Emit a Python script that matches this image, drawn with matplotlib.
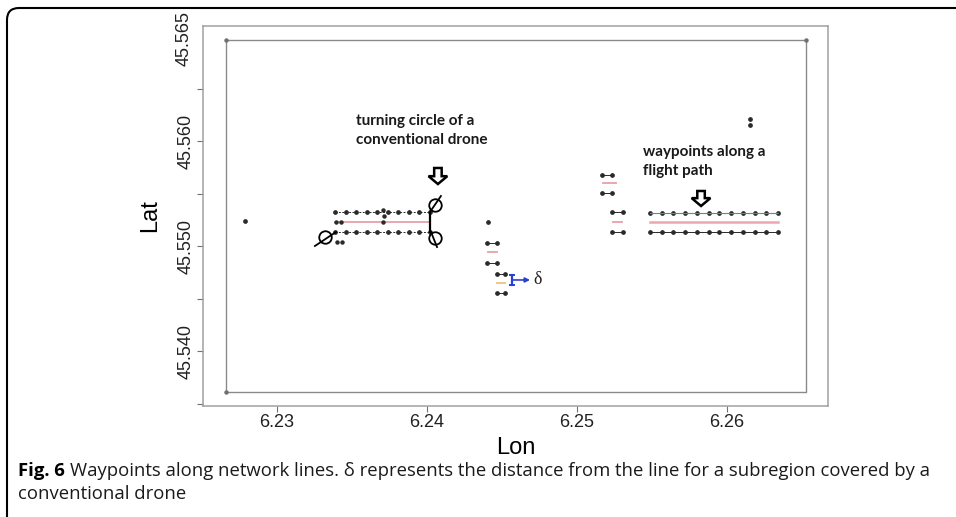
import matplotlib.pyplot as plt
from matplotlib.patches import FancyArrow, FancyBboxPatch

# survey frame (corner points)
frame_lon = [6.2266, 6.2266, 6.26527, 6.26527, 6.2266]
frame_lat = [45.53610, 45.56962, 45.56962, 45.53610, 45.53610]

# left cluster: two flight rows either side of the network line
left_lon = [6.2339, 6.2346, 6.2353, 6.2360, 6.2367, 6.2374, 6.2381, 6.2388, 6.2395, 6.2402]
left_lat_top = 45.55324
left_lat_mid = 45.55229
left_lat_bot = 45.55133
left_extra_lon = [6.23393, 6.23427, 6.23400, 6.23433, 6.23707, 6.23713, 6.23707]
left_extra_lat = [45.55229, 45.55229, 45.55038, 45.55038, 45.55343, 45.55286, 45.55229]

# turning circles and their tangent strokes
circle_lon = [6.24053, 6.24053, 6.23320]
circle_lat = [45.55390, 45.55076, 45.55086]
tangent_lon = [[6.24020, 6.24093], [6.24027, 6.24067], [6.23253, 6.23393]]
tangent_lat = [[45.55324, 45.55476], [45.55133, 45.54990], [45.55000, 45.55133]]

# short segments (middle and right-middle groups)
seg_pairs = [
    ((6.24400, 6.24467), 45.55029),
    ((6.24400, 6.24467), 45.54838),
    ((6.24467, 6.24520), 45.54733),
    ((6.24467, 6.24520), 45.54552),
    ((6.25167, 6.25233), 45.55676),
    ((6.25167, 6.25233), 45.55505),
    ((6.25233, 6.25307), 45.55324),
    ((6.25233, 6.25307), 45.55133),
]
seg_lines = [
    ((6.24407, 6.24467), 45.54943, '#e8a0a8'),
    ((6.24467, 6.24520), 45.54648, '#f0c080'),
    ((6.25173, 6.25260), 45.55600, '#e8a0a8'),
    ((6.25240, 6.25300), 45.55229, '#e8a0a8'),
]

# right cluster
right_lon = [6.2549, 6.2557, 6.2564, 6.2572, 6.2580, 6.2588,
             6.2595, 6.2603, 6.2611, 6.2619, 6.2626, 6.2634]
right_lat_top = 45.55314
right_lat_mid = 45.55229
right_lat_bot = 45.55133

# isolated points
single_lon = [6.22787, 6.26153, 6.26153, 6.24407]
single_lat = [45.55238, 45.56210, 45.56152, 45.55229]

# delta marker
delta_lon = 6.24567
delta_lat = (45.54629, 45.54724)
delta_arrow_end = 6.24687
delta_text_lon = 6.24740

x_ticks = [6.23, 6.24, 6.25, 6.26]
x_tick_labels = ['6.23', '6.24', '6.25', '6.26']
y_major = [45.540, 45.550, 45.560]
y_major_labels = ['45.540', '45.550', '45.560']
y_minor = [45.535, 45.545, 45.555, 45.565]

plt.rcParams['font.family'] = ['Liberation Sans', 'DejaVu Sans']

fig = plt.figure(figsize=(9.56, 5.17), dpi=100)
ax = fig.add_axes([0.2123, 0.2147, 0.6538, 0.7350])
ax.set_xlim(6.225067, 6.266733)
ax.set_ylim(45.534762, 45.570952)

for s in ax.spines.values():
    s.set_color('#a0a0a0')
    s.set_linewidth(1.1)

ax.set_xticks(x_ticks)
ax.set_xticklabels(x_tick_labels)
ax.set_yticks(y_major)
ax.set_yticklabels(y_major_labels, rotation=90, va='center')
ax.set_yticks(y_minor, minor=True)
ax.tick_params(axis='both', which='both', direction='out', length=4, width=0.8,
               color='#707070', labelsize=13, labelcolor='#222222', pad=2)
ax.annotate('45.565', xy=(0, 45.5698), xycoords=('axes fraction', 'data'),
            xytext=(-10, 0), textcoords='offset pixels', rotation=90,
            ha='right', va='center', fontsize=13, color='#222222')
ax.set_xlabel('Lon', fontsize=17, labelpad=4)
ax.set_ylabel('Lat', fontsize=17, labelpad=12)

ax.plot(frame_lon, frame_lat, color='#8a8a8a', lw=1.0)
ax.plot(frame_lon[:2], frame_lat[:2], 'o', color='#707070', ms=2.2)
ax.plot(frame_lon[2:3], frame_lat[2:3], 'o', color='#707070', ms=2.2)

dot = dict(marker='o', ms=2.4, color='#2a2a2a', lw=0.7)

# left cluster rows
ax.plot(left_lon, [left_lat_top] * len(left_lon), ls=(0, (2, 1.5)), **dot)
ax.plot(left_lon, [left_lat_bot] * len(left_lon), ls=(0, (2, 1.5)), **dot)
ax.plot(left_lon, [left_lat_mid] * len(left_lon), color='#e6a0a8', lw=1.3)
ax.plot(left_extra_lon, left_extra_lat, 'o', ms=2.2, color='#2a2a2a')
ax.plot([left_lon[-1], left_lon[-1]], [left_lat_top, left_lat_bot], color='black', lw=1.6)

ax.plot(circle_lon, circle_lat, 'o', ms=9, mfc='none', mec='black', mew=1.3)
for tx, ty in zip(tangent_lon, tangent_lat):
    ax.plot(tx, ty, color='black', lw=1.3)

for (xs, y) in seg_pairs:
    ax.plot(xs, [y, y], **dot)
for (xs, y, c) in seg_lines:
    ax.plot(xs, [y, y], color=c, lw=1.3)

# right cluster rows
ax.plot(right_lon, [right_lat_top] * len(right_lon), marker='o', ms=2.4,
        color='#2a2a2a', lw=0)
ax.plot(right_lon, [right_lat_top] * len(right_lon), color='#4a9488', lw=0.8)
ax.plot(right_lon, [right_lat_mid] * len(right_lon), color='#eea6ae', lw=1.8)
ax.plot(right_lon, [right_lat_bot] * len(right_lon), **dot)

ax.plot(single_lon, single_lat, 'o', ms=2.4, color='#2a2a2a')

# delta: distance bar with arrow
ax.plot([delta_lon, delta_lon], delta_lat, color='#2a3fd0', lw=1.6)
ax.plot([delta_lon - 0.00012, delta_lon + 0.00012], [delta_lat[0]] * 2, color='#2a3fd0', lw=1.4)
ax.plot([delta_lon - 0.00012, delta_lon + 0.00012], [delta_lat[1]] * 2, color='#2a3fd0', lw=1.4)
mid_lat = sum(delta_lat) / 2
ax.annotate('', xy=(delta_arrow_end, mid_lat), xytext=(delta_lon, mid_lat),
            arrowprops=dict(arrowstyle='-|>', color='#2a3fd0', lw=1.2,
                            mutation_scale=7, shrinkA=0, shrinkB=0))
ax.text(delta_text_lon, mid_lat, 'δ', fontsize=13, family=['Liberation Serif', 'DejaVu Serif'],
        ha='center', va='center', color='#222222')

# hollow pointer arrows under the labels
for x0, y_top, y_bot in [(6.24073, 45.55743, 45.55590), (6.25827, 45.55524, 45.55381)]:
    ax.add_patch(FancyArrow(x0, y_top, 0, y_bot - y_top, width=0.00050,
                            head_width=0.00125, head_length=0.00075,
                            length_includes_head=True, fc='white', ec='black', lw=1.8))

label_font = dict(fontsize=11, fontweight='bold', family=['Lato', 'DejaVu Sans'],
                  color='#1a1a1a', ha='left', va='top', linespacing=1.4)
ax.text(6.23527, 45.56255, 'turning circle of a\nconventional drone', **label_font)
ax.text(6.25440, 45.55960, 'waypoints along a\nflight path', **label_font)

# caption and page frame
cap_font = dict(fontsize=13.3, family=['Open Sans', 'DejaVu Sans'], va='center', ha='left')
fig.text(18 / 956, 1 - 471 / 517, 'Fig. 6', fontweight='bold', **cap_font)
fig.text(70 / 956, 1 - 471 / 517,
         'Waypoints along network lines. δ represents the distance from the line for a subregion covered by a',
         color='#1a1a1a', **cap_font)
fig.text(18 / 956, 1 - 494 / 517, 'conventional drone', color='#1a1a1a', **cap_font)

fig.add_artist(FancyBboxPatch((0.07, -1.0), 10.0, 6.09,
                              boxstyle='round,pad=0,rounding_size=0.12',
                              transform=fig.dpi_scale_trans, fc='none', ec='black', lw=1.5))

fig.savefig('out.png', dpi=100)
